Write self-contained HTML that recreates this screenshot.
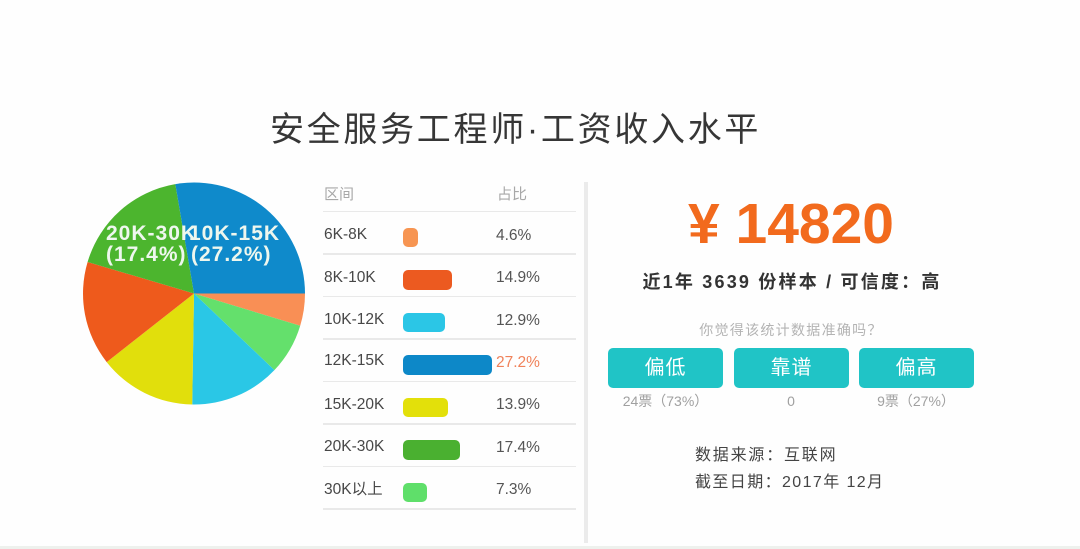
<!DOCTYPE html>
<html>
<head>
<meta charset="utf-8">
<style>
  html, body { margin:0; padding:0; }
  body { width:1080px; height:549px; background:#fefefe; position:relative; overflow:hidden;
         font-family:"Liberation Sans","Noto Sans CJK SC",sans-serif; }
  .abs { position:absolute; white-space:nowrap; }
  .title { left:270px; top:110px; height:40px; line-height:40px; font-size:34px; letter-spacing:2.7px; color:#363636; }
  .hdr { font-size:15px; color:#a8a8a8; line-height:20px; height:20px; }
  .lbl { left:324px; font-size:15.5px; color:#474747; line-height:20px; height:20px; }
  .pct { left:496px; font-size:15.5px; color:#555; line-height:20px; height:20px; }
  .bar { position:absolute; left:403px; height:19.5px; border-radius:5px; }
  .hl { position:absolute; left:323px; width:253px; height:1.5px; background:#e9e9e9; }
  .divider { position:absolute; left:584px; top:182px; width:4px; height:361px; background:#ebebeb; }
  .ctr { position:absolute; text-align:center; white-space:nowrap; }
  .btn { position:absolute; top:348px; width:115px; height:40px; border-radius:5px; background:#20c4c6;
         color:#fff; font-size:20px; line-height:40px; text-align:center; letter-spacing:1px; }
  .sub { position:absolute; top:391px; width:160px; height:20px; line-height:20px; font-size:14px; color:#a0a0a0; text-align:center; }
  .foot { left:695px; font-size:16px; letter-spacing:1.8px; color:#444; line-height:22px; height:22px; }
</style>
</head>
<body>

<div class="abs title">安全服务工程师·工资收入水平</div>

<svg class="abs" style="left:0;top:0" width="320" height="420" viewBox="0 0 320 420">
  <path d="M194 293.5 L305 293.5 A111 111 0 0 1 300.2 325.7 Z" fill="#f98f55"/>
  <path d="M194 293.5 L300.2 325.7 A111 111 0 0 1 274.4 370.1 Z" fill="#64e06c"/>
  <path d="M194 293.5 L274.4 370.1 A111 111 0 0 1 192.2 404.5 Z" fill="#2ac7e6"/>
  <path d="M194 293.5 L192.2 404.5 A111 111 0 0 1 106.7 362.1 Z" fill="#e1df0c"/>
  <path d="M194 293.5 L106.7 362.1 A111 111 0 0 1 87.6 262.0 Z" fill="#ee5a1c"/>
  <path d="M194 293.5 L87.6 262.0 A111 111 0 0 1 175.3 184.1 Z" fill="#4cb52e"/>
  <path d="M194 293.5 L175.3 184.1 A111 111 0 0 1 305 293.5 Z" fill="#0f8acb"/>
  <g font-family="Liberation Sans, sans-serif" font-weight="bold" font-size="21" letter-spacing="1" fill="#eef7ee">
    <text x="189" y="240">10K-15K</text>
    <text x="191" y="261">(27.2%)</text>
    <text x="106" y="240">20K-30K</text>
    <text x="106" y="261">(17.4%)</text>
  </g>
</svg>

<!-- table -->
<div class="abs hdr" style="left:324px;top:185px;">区间</div>
<div class="abs hdr" style="left:497px;top:185px;">占比</div>

<div class="hl" style="top:210.5px"></div>
<div class="hl" style="top:253px"></div>
<div class="hl" style="top:295.5px"></div>
<div class="hl" style="top:338px"></div>
<div class="hl" style="top:380.5px"></div>
<div class="hl" style="top:423px"></div>
<div class="hl" style="top:465.5px"></div>
<div class="hl" style="top:508px"></div>

<div class="abs lbl" style="top:224.5px">6K-8K</div>
<div class="bar" style="top:227.7px;width:15px;background:#f79552"></div>
<div class="abs pct" style="top:225.5px">4.6%</div>

<div class="abs lbl" style="top:267.5px">8K-10K</div>
<div class="bar" style="top:270.2px;width:49px;background:#ec5a20"></div>
<div class="abs pct" style="top:268px">14.9%</div>

<div class="abs lbl" style="top:309.5px">10K-12K</div>
<div class="bar" style="top:312.7px;width:42px;background:#2bc6e6"></div>
<div class="abs pct" style="top:310.5px">12.9%</div>

<div class="abs lbl" style="top:351px">12K-15K</div>
<div class="bar" style="top:355.2px;width:89px;background:#0d88c8"></div>
<div class="abs pct" style="top:352.5px;color:#f0825a">27.2%</div>

<div class="abs lbl" style="top:395px">15K-20K</div>
<div class="bar" style="top:397.7px;width:45px;background:#e3e00a"></div>
<div class="abs pct" style="top:395px">13.9%</div>

<div class="abs lbl" style="top:437px">20K-30K</div>
<div class="bar" style="top:440.2px;width:57px;background:#4ab030"></div>
<div class="abs pct" style="top:437.5px">17.4%</div>

<div class="abs lbl" style="top:479.5px">30K以上</div>
<div class="bar" style="top:482.7px;width:24px;background:#5fdf6a"></div>
<div class="abs pct" style="top:480px">7.3%</div>

<div class="divider"></div>

<!-- right panel -->
<div class="ctr" style="left:591px;width:400px;top:193.5px;height:60px;line-height:60px;font-size:57px;font-weight:bold;color:#f26a1d;">¥ 14820</div>

<div class="ctr" style="left:592px;width:400px;top:271px;height:22px;line-height:22px;font-size:18px;font-weight:bold;letter-spacing:2.2px;color:#333;">近1年 3639 份样本 / 可信度：高</div>

<div class="ctr" style="left:591px;width:400px;top:320px;height:20px;line-height:20px;font-size:14px;letter-spacing:1.3px;color:#b3b3b3;">你觉得该统计数据准确吗？</div>

<div class="btn" style="left:608px">偏低</div>
<div class="btn" style="left:734px">靠谱</div>
<div class="btn" style="left:859px">偏高</div>

<div class="sub" style="left:585.5px">24票（73%）</div>
<div class="sub" style="left:711px">0</div>
<div class="sub" style="left:836px">9票（27%）</div>

<div class="abs foot" style="top:445px">数据来源：互联网</div>
<div class="abs foot" style="top:472px;letter-spacing:1.4px">截至日期：2017年 12月</div>

<div style="position:absolute;left:0;top:546px;width:1080px;height:3px;background:#eef1ed"></div>

</body>
</html>
